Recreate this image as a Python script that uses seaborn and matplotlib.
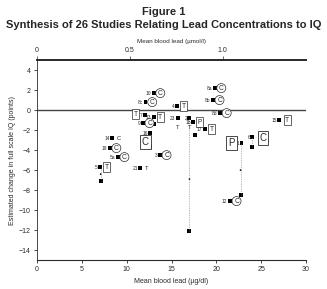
import numpy as np
import pandas as pd
import matplotlib
matplotlib.use("Agg")
import matplotlib.pyplot as plt
import seaborn as sns

# donnees (estimations)
study = ["10", "8c", "4", "8a", "8b", "8d", "7", "13", "9", "16", "3", "21",
         "14", "19", "5a", "5", "23", "2", "1b", "17", "15", "1", "6", "12"]
lead = [13.0, 12.1, 15.6, 19.8, 19.6, 20.4, 12.0, 13.0, 11.8, 12.6, 13.7, 11.5,
        8.4, 8.1, 9.0, 7.0, 15.7, 17.0, 17.4, 18.7, 27.0, 22.8, 24.0, 21.5]
iq_change = [1.7, 0.8, 0.4, 2.2, 1.0, -0.3, -0.5, -0.7, -1.3, -2.3, -4.5, -5.8,
             -2.8, -3.8, -4.7, -5.7, -0.8, -0.8, -1.2, -1.9, -1.0, -3.3, -2.7, -9.1]
design = ["C", "C", "T", "C", "C", "C", "T", "T", "C", "C", "C", "T",
          "C", "C", "C", "T", "T", "T", "P", "T", "T", "P", "C", "C"]
frame = ["circle", "circle", "box", "circle", "circle", "circle", "box", "box",
         "circle", "bigbox", "circle", "none", "none", "circle", "circle", "box",
         "none", "none", "box", "box", "box", "bigbox", "bigbox", "circle"]

# estimations supplementaires (sans etiquette)
extra_lead = [7.1, 12.6, 17.0, 17.6, 22.7, 24.0, 13.0]
extra_iq = [-7.1, -3.7, -12.1, -2.5, -8.5, -3.7, -1.4]
dot_lead = [7.1, 17.0, 22.7]
dot_iq = [-6.4, -6.9, -6.0]

# etendues verticales en pointilles
range_lead = [7.1, 12.6, 17.0, 22.7, 24.0]
range_lo = [-7.1, -3.7, -12.1, -8.5, -3.7]
range_hi = [-5.7, -2.3, -0.8, -3.3, -2.7]

UMOL = 20.7  # ug/dl par umol/l

df = pd.DataFrame({"study": study, "lead": lead, "iq": iq_change,
                   "design": design, "frame": frame})

sns.set_theme(style="ticks")
plt.rcParams["font.family"] = ["Liberation Sans", "DejaVu Sans"]

fig = plt.figure(figsize=(3.27, 2.89), dpi=100)
ax = fig.add_axes([0.113, 0.10, 0.823, 0.692])
ink = "#2a2a2a"

for xr, lo, hi in zip(range_lead, range_lo, range_hi):
    ax.plot([xr, xr], [lo, hi], color="#777777", lw=0.5, ls=(0, (1, 1.5)))

ax.axhline(0, color="#444444", lw=1.0)

sns.scatterplot(data=df, x="lead", y="iq", marker="s", s=8, color="black",
                edgecolor="none", ax=ax, legend=False)
sns.scatterplot(x=extra_lead, y=extra_iq, marker="s", s=8, color="black",
                edgecolor="none", ax=ax, legend=False)
sns.scatterplot(x=dot_lead, y=dot_iq, marker="o", s=1.5, color="black",
                edgecolor="none", ax=ax, legend=False)

# placement des lettres: (dx, dy) en unites de donnees
letter_pos = {"7": (-1.0, 0.1), "16": (-0.5, -0.9), "1": (-1.1, 0.0),
              "23": (0.0, -0.9), "2": (0.0, -0.9), "6": (1.2, -0.1),
              "15": (0.9, 0.0)}

for row in df.itertuples():
    ax.text(row.lead - 0.25, row.iq, row.study, fontsize=3.5, color=ink,
            ha="right", va="center")
    dx, dy = letter_pos.get(row.study, (0.75, 0.0))
    if row.frame == "circle":
        bb = dict(boxstyle="circle,pad=0.15", fc="white", ec=ink, lw=0.5)
        fs = 4.8
    elif row.frame == "box":
        bb = dict(boxstyle="square,pad=0.2", fc="white", ec=ink, lw=0.5)
        fs = 4.8
    elif row.frame == "bigbox":
        bb = dict(boxstyle="square,pad=0.2", fc="white", ec=ink, lw=0.6)
        fs = 7
    else:
        bb = None
        fs = 4.2
    ax.text(row.lead + dx, row.iq + dy, row.design, fontsize=fs, color=ink,
            ha="center", va="center", bbox=bb)

ax.set_xlim(0, 30)
ax.set_ylim(-15, 5)
ax.set_xticks([0, 5, 10, 15, 20, 25, 30])
ax.set_yticks(np.arange(-14, 5, 2))
ax.tick_params(labelsize=5, length=2.5, width=0.6, colors=ink, pad=2)
for side in ["left", "bottom", "top"]:
    ax.spines[side].set_color(ink)
ax.spines["left"].set_linewidth(0.6)
ax.spines["bottom"].set_linewidth(0.8)
ax.spines["top"].set_linewidth(1.4)
ax.spines["right"].set_visible(False)
ax.set_xlabel("Mean blood lead (µg/dl)", fontsize=5, color=ink, labelpad=3)
ax.set_ylabel("Estimated change in full scale IQ (points)", fontsize=5,
              color=ink, labelpad=2)

top = ax.secondary_xaxis("top", functions=(lambda v: v / UMOL, lambda v: v * UMOL))
top.set_xticks([0, 0.5, 1.0, 1.5])
top.set_xticklabels(["0", "0.5", "1.0", "1.5"])
top.tick_params(labelsize=5, length=3, width=0.5, colors=ink, pad=1.5)
top.set_xlabel("Mean blood lead (µmol/l)", fontsize=4.5, color=ink, labelpad=3)
top.spines["top"].set_linewidth(0.5)

fig.text(0.5, 0.975, "Figure 1", ha="center", va="top", fontsize=8,
         fontweight="bold")
fig.text(0.5, 0.93, "Synthesis of 26 Studies Relating Lead Concentrations to IQ",
         ha="center", va="top", fontsize=8, fontweight="bold")

fig.savefig("out.png", dpi=100)
